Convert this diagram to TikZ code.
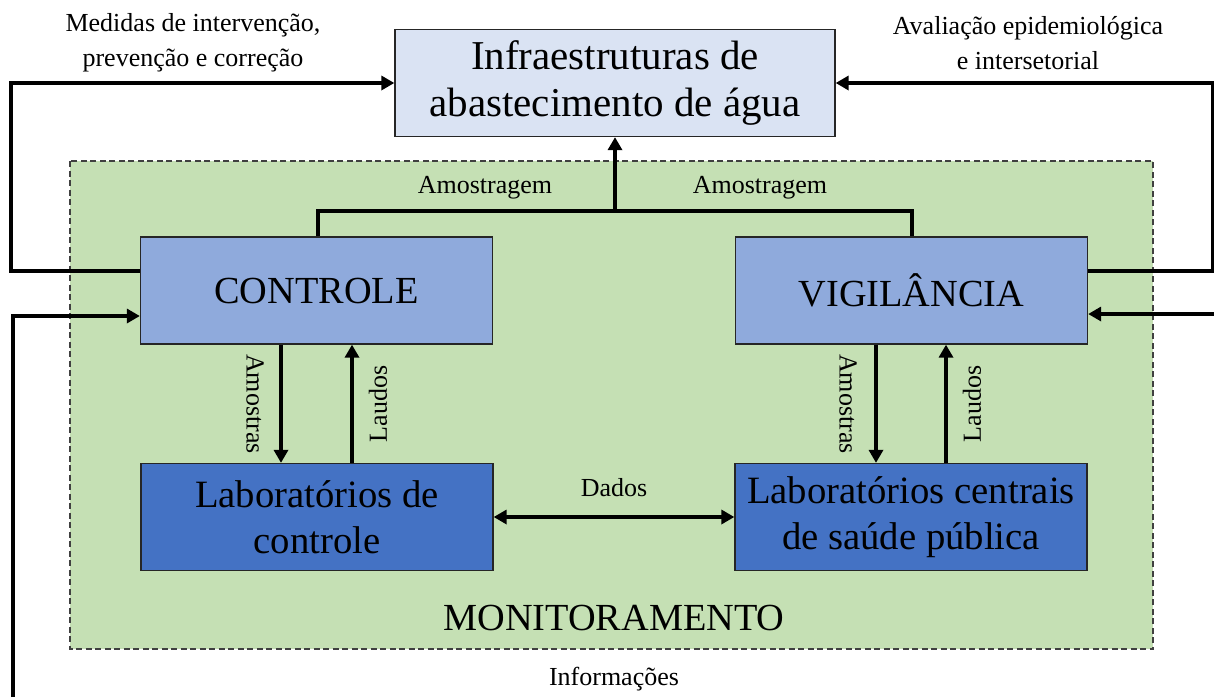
\documentclass[tikz,border=0pt]{standalone}
\usepackage{fontspec}
\setmainfont{Liberation Serif}
\usetikzlibrary{arrows.meta,calc}
\definecolor{topfill}{HTML}{DAE3F3}
\definecolor{midfill}{HTML}{8FAADC}
\definecolor{labfill}{HTML}{4472C4}
\definecolor{greenfill}{HTML}{C5E0B4}
\definecolor{edgecol}{HTML}{262626}
\definecolor{dashcol}{HTML}{404040}
\begin{document}
\begin{tikzpicture}[x=1pt,y=-1pt,
  box/.style={draw=edgecol, line width=1.3pt, align=center, inner sep=0pt, minimum height=107pt},
  topbox/.style={box, fill=topfill, minimum width=440pt, font=\fontsize{41}{47}\selectfont},
  midbox/.style={box, fill=midfill, minimum width=352pt, font=\fontsize{38.3}{45}\selectfont},
  labbox/.style={box, fill=labfill, minimum width=352pt, font=\fontsize{38.7}{46}\selectfont},
  lbl/.style={inner sep=0pt, align=center, font=\fontsize{26}{35}\selectfont},
  bigtxt/.style={inner sep=0pt, font=\fontsize{38.3}{45}\selectfont},
  wire/.style={line width=3.6pt, draw=black},
  arr/.style={wire, -{Triangle[length=13pt,width=14pt]}},
  darr/.style={wire, {Triangle[length=13pt,width=14pt]}-{Triangle[length=13pt,width=14pt]}},
  monitor/.style={fill=greenfill, draw=dashcol, line width=1.4pt, dash pattern=on 6pt off 3.5pt}
]
\useasboundingbox (0,0) rectangle (1214,697);

% monitoring area
\path[monitor] (70,161) rectangle (1153,649);

% boxes
\node[topbox] (top) at (615,83) {Infraestruturas de\\abastecimento de água};
\node[midbox] (ctrl) at (316.5,290.5) {CONTROLE};
\node[midbox] (vig) at (911.5,290.5) {VIGILÂNCIA};
\node[labbox] (labc) at (317,517) {Laboratórios de\\controle};
\node[labbox] (labv) at (911,517) {Laboratórios centrais\\de saúde pública};

% texts
\node[bigtxt] (mon) at (614,618) {MONITORAMENTO};
\node[lbl] (medidas) at (193,43) {Medidas de intervenção,\\prevenção e correção};
\node[lbl] (aval) at (1028,43) {Avaliação epidemiológica\\e intersetorial};
\node[lbl] (amg1) at (485,188) {Amostragem};
\node[lbl] (amg2) at (760,188) {Amostragem};
\node[lbl] (dados) at (614,488) {Dados};
\node[lbl] (info) at (614,679) {Informações};
\node[lbl, rotate=-90] (am1) at (255,404) {Amostras};
\node[lbl, rotate=90] (la1) at (378,404) {Laudos};
\node[lbl, rotate=-90] (am2) at (848,404) {Amostras};
\node[lbl, rotate=90] (la2) at (972,404) {Laudos};

% free ends
\coordinate (bl) at (13,697);
\coordinate (rin) at (1214,314);
\coordinate (junc) at (615,211);

% feedback loops
\draw[arr] ([yshift=19.5pt]ctrl.west) -| (11,83) -- (top.west);
\draw[arr] ([yshift=19.5pt]vig.east) -| (1212.5,83) -- (top.east);
\draw[arr] (bl) |- ([yshift=-25.5pt]ctrl.west);
\draw[arr] (rin) -- ([yshift=-23.5pt]vig.east);

% sampling
\draw[wire] ([xshift=1.5pt]ctrl.north) |- (junc) -| ([xshift=0.5pt]vig.north);
\draw[arr] (junc) -- (top.south);

% samples and reports
\draw[arr] ([xshift=-35.5pt]ctrl.south) -- ([xshift=-36pt]labc.north);
\draw[arr] ([xshift=35pt]labc.north) -- ([xshift=35.5pt]ctrl.south);
\draw[arr] ([xshift=-35.5pt]vig.south) -- ([xshift=-35pt]labv.north);
\draw[arr] ([xshift=35pt]labv.north) -- ([xshift=34.5pt]vig.south);

% data exchange
\draw[darr] (labc.east) -- (labv.west);
\end{tikzpicture}
\end{document}
